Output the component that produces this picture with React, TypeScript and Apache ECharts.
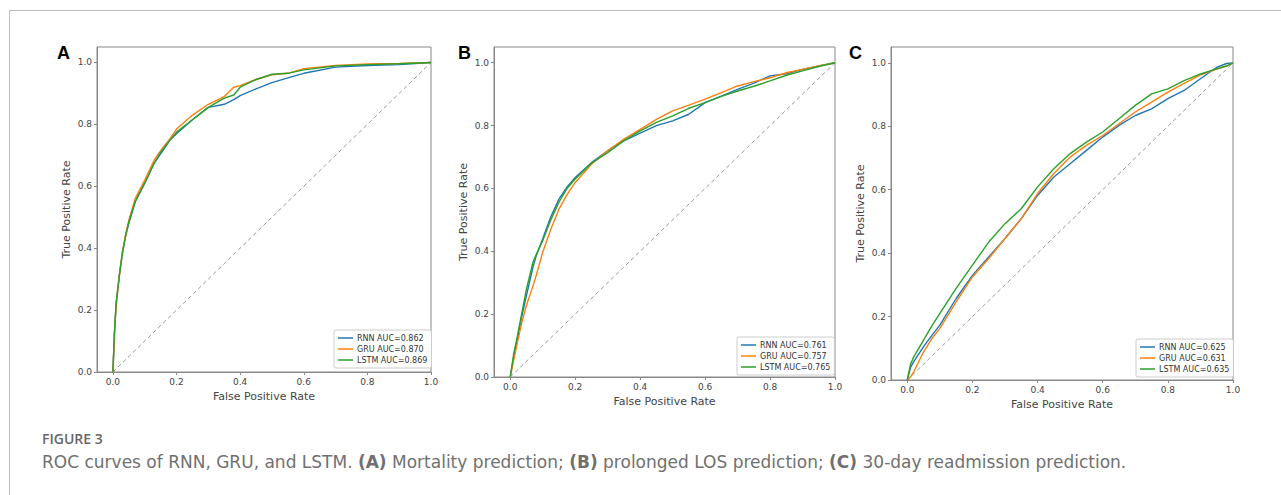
import React, { useEffect, useRef } from "react";
import * as echarts from "echarts";

// ---------- data ----------
const tickValues = [0, 0.2, 0.4, 0.6, 0.8, 1.0];
const panelLetters = ["A", "B", "C"];
const modelNames = ["RNN", "GRU", "LSTM"];
const aucA = ["0.862", "0.870", "0.869"];
const aucB = ["0.761", "0.757", "0.765"];
const aucC = ["0.625", "0.631", "0.635"];
const modelColors = ["#1f77b4", "#ff7f0e", "#2ca02c"];

const fprA = [0, 0.005, 0.01, 0.02, 0.03, 0.04, 0.05, 0.07, 0.1, 0.13, 0.15, 0.18, 0.2, 0.25, 0.3, 0.35, 0.38, 0.4, 0.45, 0.5, 0.55, 0.6, 0.7, 0.8, 0.9, 1.0];
const tprA_RNN = [0, 0.13, 0.22, 0.31, 0.385, 0.44, 0.48, 0.55, 0.61, 0.675, 0.705, 0.75, 0.77, 0.815, 0.855, 0.865, 0.88, 0.893, 0.915, 0.935, 0.95, 0.965, 0.985, 0.99, 0.993, 1];
const tprA_GRU = [0, 0.12, 0.21, 0.31, 0.39, 0.445, 0.49, 0.56, 0.62, 0.685, 0.715, 0.755, 0.785, 0.83, 0.865, 0.89, 0.92, 0.925, 0.945, 0.96, 0.965, 0.98, 0.99, 0.995, 0.997, 1];
const tprA_LSTM = [0, 0.13, 0.22, 0.31, 0.385, 0.44, 0.485, 0.55, 0.61, 0.675, 0.71, 0.75, 0.775, 0.815, 0.855, 0.885, 0.895, 0.92, 0.945, 0.962, 0.965, 0.976, 0.989, 0.993, 0.996, 1];

const fprB = [0, 0.01, 0.02, 0.035, 0.05, 0.07, 0.08, 0.1, 0.125, 0.15, 0.175, 0.2, 0.25, 0.3, 0.35, 0.4, 0.45, 0.5, 0.55, 0.6, 0.65, 0.7, 0.75, 0.8, 0.85, 0.9, 0.95, 1.0];
const tprB_RNN = [0, 0.06, 0.11, 0.19, 0.26, 0.35, 0.386, 0.44, 0.51, 0.566, 0.605, 0.635, 0.682, 0.72, 0.751, 0.776, 0.8, 0.815, 0.836, 0.873, 0.894, 0.915, 0.935, 0.958, 0.965, 0.979, 0.99, 1];
const tprB_GRU = [0, 0.05, 0.1, 0.17, 0.228, 0.29, 0.323, 0.397, 0.47, 0.534, 0.58, 0.619, 0.677, 0.72, 0.757, 0.788, 0.82, 0.847, 0.865, 0.884, 0.905, 0.926, 0.94, 0.952, 0.968, 0.979, 0.99, 1];
const tprB_LSTM = [0, 0.07, 0.12, 0.2, 0.28, 0.365, 0.39, 0.434, 0.5, 0.556, 0.6, 0.63, 0.68, 0.714, 0.752, 0.783, 0.81, 0.831, 0.855, 0.873, 0.893, 0.91, 0.925, 0.942, 0.96, 0.974, 0.988, 1];

const fprC = [0, 0.01, 0.02, 0.05, 0.075, 0.1, 0.15, 0.2, 0.25, 0.3, 0.35, 0.4, 0.45, 0.5, 0.55, 0.6, 0.65, 0.7, 0.75, 0.8, 0.85, 0.9, 0.95, 0.98, 1.0];
const tprC_RNN = [0, 0.04, 0.058, 0.105, 0.14, 0.173, 0.257, 0.33, 0.388, 0.446, 0.509, 0.582, 0.64, 0.682, 0.724, 0.766, 0.803, 0.834, 0.855, 0.887, 0.913, 0.95, 0.986, 0.998, 1];
const tprC_GRU = [0, 0.01, 0.026, 0.089, 0.13, 0.163, 0.246, 0.325, 0.383, 0.446, 0.509, 0.588, 0.651, 0.703, 0.74, 0.771, 0.808, 0.845, 0.876, 0.908, 0.935, 0.962, 0.98, 0.99, 1];
const tprC_LSTM = [0, 0.05, 0.073, 0.126, 0.17, 0.21, 0.289, 0.362, 0.435, 0.493, 0.54, 0.609, 0.666, 0.714, 0.75, 0.782, 0.824, 0.866, 0.902, 0.918, 0.944, 0.965, 0.981, 0.99, 1];

const diagonal = [0, 1];

const captionTitle = "FIGURE 3";
const captionText =
  "ROC curves of RNN, GRU, and LSTM. {b|(A)} Mortality prediction; {b|(B)} prolonged LOS prediction; {b|(C)} 30-day readmission prediction.";

// ---------- layout ----------
const grids = [
  { left: 97, top: 47, width: 334, height: 325 },
  { left: 494, top: 47, width: 341, height: 330 },
  { left: 891, top: 47, width: 342, height: 333 },
];
const legendPos = [
  { left: 334, top: 330 },
  { left: 737, top: 337 },
  { left: 1136, top: 339 },
];
const letterPos = [57, 458, 849];

const panels = [
  { fpr: fprA, tprs: [tprA_RNN, tprA_GRU, tprA_LSTM], auc: aucA },
  { fpr: fprB, tprs: [tprB_RNN, tprB_GRU, tprB_LSTM], auc: aucB },
  { fpr: fprC, tprs: [tprC_RNN, tprC_GRU, tprC_LSTM], auc: aucC },
];

const axisColor = "#888";
const labelColor = "#444";
const tickFont = "DejaVu Sans";

export default function App() {
  const ref = useRef<HTMLDivElement>(null);

  useEffect(() => {
    if (!ref.current) return;
    const chart = echarts.init(ref.current, undefined, { renderer: "svg" });

    const xAxis: any[] = [];
    const yAxis: any[] = [];
    const series: any[] = [];
    const legend: any[] = [];
    const graphic: any[] = [];

    const labelCfg = {
      customValues: tickValues,
      fontFamily: tickFont,
      fontSize: 9,
      color: labelColor,
      margin: 5,
      formatter: (v: number) => v.toFixed(1),
    };

    panels.forEach((p, i) => {
      xAxis.push({
        type: "value",
        gridIndex: i,
        min: -0.05,
        max: 1.0,
        name: "False Positive Rate",
        nameLocation: "middle",
        nameGap: 18,
        nameTextStyle: { fontFamily: tickFont, fontSize: 11, color: labelColor },
        axisLine: { show: true, onZero: false, lineStyle: { color: axisColor } },
        axisTick: { show: true, length: 3, customValues: tickValues, lineStyle: { color: axisColor } },
        axisLabel: labelCfg,
        splitLine: { show: false },
      });
      yAxis.push({
        type: "value",
        gridIndex: i,
        min: 0,
        max: 1.05,
        name: "True Positive Rate",
        nameLocation: "middle",
        nameGap: 25,
        nameTextStyle: { fontFamily: tickFont, fontSize: 11, color: labelColor },
        axisLine: { show: true, onZero: false, lineStyle: { color: axisColor } },
        axisTick: { show: true, length: 3, customValues: tickValues, lineStyle: { color: axisColor } },
        axisLabel: labelCfg,
        splitLine: { show: false },
      });

      series.push({
        type: "line",
        xAxisIndex: i,
        yAxisIndex: i,
        data: diagonal.map((d) => [d, d]),
        showSymbol: false,
        symbol: "none",
        silent: true,
        lineStyle: { color: "#999", width: 1, type: [4, 3] },
      });

      const names: string[] = [];
      p.tprs.forEach((tpr, k) => {
        const name = `${modelNames[k]} AUC=${p.auc[k]}`;
        names.push(name);
        series.push({
          type: "line",
          name,
          xAxisIndex: i,
          yAxisIndex: i,
          data: p.fpr.map((f, j) => [f, tpr[j]]),
          showSymbol: false,
          symbol: "none",
          color: modelColors[k],
          lineStyle: { color: modelColors[k], width: 1.4 },
        });
      });

      legend.push({
        data: names,
        orient: "vertical",
        left: legendPos[i].left,
        top: legendPos[i].top,
        icon: "rect",
        itemWidth: 15,
        itemHeight: 1.5,
        itemGap: 3,
        padding: [4, 4, 4, 4],
        borderColor: "#ccc",
        borderWidth: 1,
        borderRadius: 2,
        backgroundColor: "#fff",
        textStyle: { fontFamily: tickFont, fontSize: 8, color: "#333", padding: [0, 0, 0, -1] },
        selectedMode: false,
      });

      graphic.push({
        type: "text",
        left: letterPos[i],
        top: 44,
        style: {
          text: panelLetters[i],
          font: "bold 18px 'Liberation Sans', Arial, sans-serif",
          fill: "#000",
        },
      });
    });

    // frame lines
    graphic.push({
      type: "line",
      shape: { x1: 9.5, y1: 10.5, x2: 1281, y2: 10.5 },
      style: { stroke: "#bbb", lineWidth: 1 },
    });
    graphic.push({
      type: "line",
      shape: { x1: 9.5, y1: 10.5, x2: 9.5, y2: 495 },
      style: { stroke: "#bbb", lineWidth: 1 },
    });
    graphic.push({
      type: "text",
      left: 42,
      top: 431,
      style: {
        text: captionTitle,
        font: "600 14px 'Open Sans', sans-serif",
        fill: "#666",
      },
    });
    graphic.push({
      type: "text",
      left: 42,
      top: 453,
      style: {
        text: captionText,
        font: "17px 'DejaVu Sans', sans-serif",
        fill: "#707070",
        rich: {
          b: { font: "bold 17px 'DejaVu Sans', sans-serif", fill: "#707070" },
        },
      },
    });

    chart.setOption({
      animation: false,
      backgroundColor: "#fff",
      grid: grids.map((g) => ({
        ...g,
        show: true,
        borderColor: axisColor,
        borderWidth: 1,
        backgroundColor: "transparent",
      })),
      xAxis,
      yAxis,
      series,
      legend,
      graphic,
    });

    return () => chart.dispose();
  }, []);

  return (
    <div
      ref={ref}
      style={{ position: "fixed", left: 0, top: 0, width: 1281, height: 495 }}
    />
  );
}
